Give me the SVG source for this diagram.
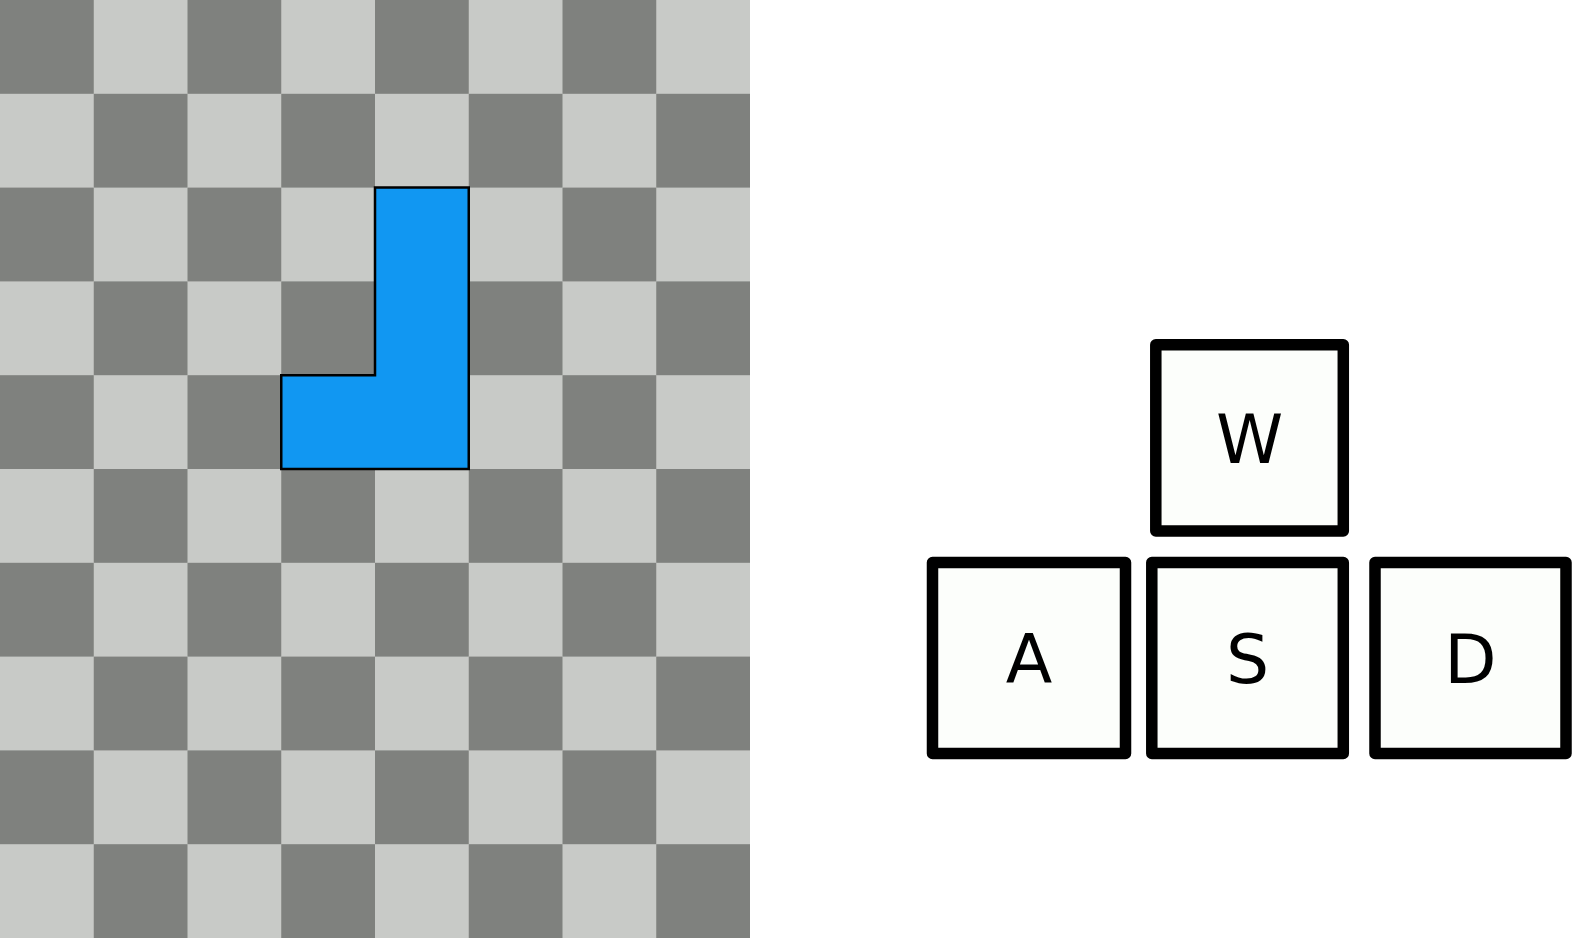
<svg xmlns="http://www.w3.org/2000/svg" width="1572" height="938" viewBox="0 0 1572 938">
<style>
.d{fill:#7f817e}
.key rect{fill:#fcfefb;stroke:#000;stroke-width:11.5;stroke-linejoin:round}
.key text{font-family:"DejaVu Sans",sans-serif;font-size:68px;fill:#000;text-anchor:middle}
</style>
<rect width="1572" height="938" fill="#fff"/>
<g id="board">
<rect x="0" y="0" width="750" height="938" fill="#c8cac7"/>
<g class="d">
<rect x="0" y="0" width="93.75" height="93.8"/><rect x="187.5" y="0" width="93.75" height="93.8"/><rect x="375" y="0" width="93.75" height="93.8"/><rect x="562.5" y="0" width="93.75" height="93.8"/>
<rect x="93.75" y="93.8" width="93.75" height="93.8"/><rect x="281.25" y="93.8" width="93.75" height="93.8"/><rect x="468.75" y="93.8" width="93.75" height="93.8"/><rect x="656.25" y="93.8" width="93.75" height="93.8"/>
<rect x="0" y="187.6" width="93.75" height="93.8"/><rect x="187.5" y="187.6" width="93.75" height="93.8"/><rect x="375" y="187.6" width="93.75" height="93.8"/><rect x="562.5" y="187.6" width="93.75" height="93.8"/>
<rect x="93.75" y="281.4" width="93.75" height="93.8"/><rect x="281.25" y="281.4" width="93.75" height="93.8"/><rect x="468.75" y="281.4" width="93.75" height="93.8"/><rect x="656.25" y="281.4" width="93.75" height="93.8"/>
<rect x="0" y="375.2" width="93.75" height="93.8"/><rect x="187.5" y="375.2" width="93.75" height="93.8"/><rect x="375" y="375.2" width="93.75" height="93.8"/><rect x="562.5" y="375.2" width="93.75" height="93.8"/>
<rect x="93.75" y="469" width="93.75" height="93.8"/><rect x="281.25" y="469" width="93.75" height="93.8"/><rect x="468.75" y="469" width="93.75" height="93.8"/><rect x="656.25" y="469" width="93.75" height="93.8"/>
<rect x="0" y="562.8" width="93.75" height="93.8"/><rect x="187.5" y="562.8" width="93.75" height="93.8"/><rect x="375" y="562.8" width="93.75" height="93.8"/><rect x="562.5" y="562.8" width="93.75" height="93.8"/>
<rect x="93.75" y="656.6" width="93.75" height="93.8"/><rect x="281.25" y="656.6" width="93.75" height="93.8"/><rect x="468.75" y="656.6" width="93.75" height="93.8"/><rect x="656.25" y="656.6" width="93.75" height="93.8"/>
<rect x="0" y="750.4" width="93.75" height="93.8"/><rect x="187.5" y="750.4" width="93.75" height="93.8"/><rect x="375" y="750.4" width="93.75" height="93.8"/><rect x="562.5" y="750.4" width="93.75" height="93.8"/>
<rect x="93.75" y="844.2" width="93.75" height="93.8"/><rect x="281.25" y="844.2" width="93.75" height="93.8"/><rect x="468.75" y="844.2" width="93.75" height="93.8"/><rect x="656.25" y="844.2" width="93.75" height="93.8"/>
</g>
</g>
<g id="piece">
<path d="M375,187.6 H468.75 V469 H281.25 V375.2 H375 Z" fill="#1197f2" stroke="#000" stroke-width="2.5"/>
</g>
<g id="key-w" class="key"><rect x="1155.8" y="344.8" width="187.5" height="186.2"/><text x="1249.5" y="462.5">W</text></g>
<g id="key-a" class="key"><rect x="932.5" y="562.5" width="193" height="191"/><text x="1029" y="682.5">A</text></g>
<g id="key-s" class="key"><rect x="1151.8" y="562.5" width="191.5" height="191"/><text x="1247.5" y="682.5">S</text></g>
<g id="key-d" class="key"><rect x="1375" y="562.5" width="191" height="191"/><text x="1470.5" y="682.5">D</text></g>
</svg>
